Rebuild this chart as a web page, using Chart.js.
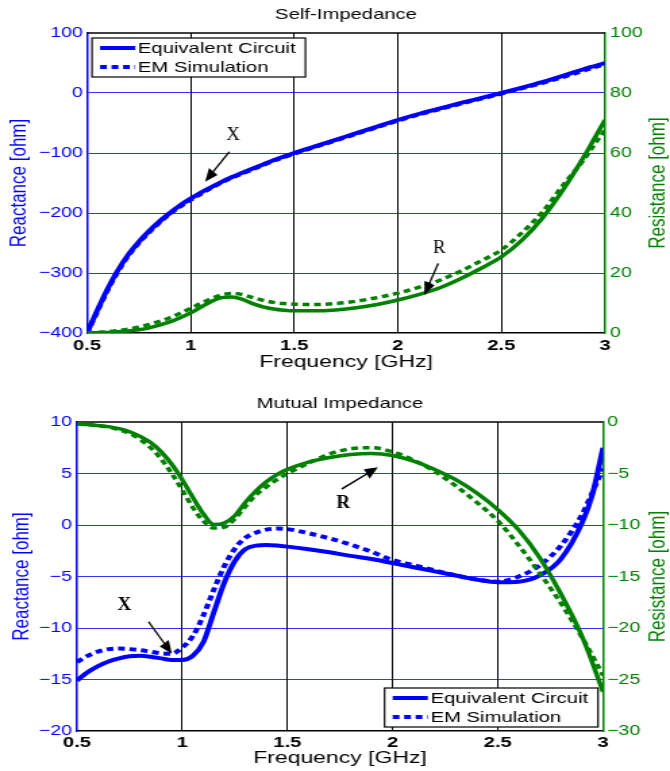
<!DOCTYPE html>
<html>
<head>
<meta charset="utf-8">
<script src="https://cdn.jsdelivr.net/npm/chart.js@4.4.1/dist/chart.umd.min.js"></script>
<style>
  body { margin: 0; background: #fff; }
  #wrap { position: relative; width: 670px; height: 771px; }
  canvas { position: absolute; left: 0; }
</style>
</head>
<body>
<div id="wrap">
  <canvas id="selfChart" width="496" height="385" style="top:0;width:670px;height:385px"></canvas>
  <canvas id="mutualChart" width="496" height="386" style="top:385px;width:670px;height:386px"></canvas>
</div>
<script>
// frequency grid (GHz), shared by all series
const freq = [0.5, 0.55, 0.6, 0.65, 0.7, 0.75, 0.8, 0.85, 0.9, 0.95, 1.0, 1.05, 1.1, 1.15, 1.2, 1.25, 1.3, 1.35, 1.4, 1.45, 1.5,
              1.6, 1.7, 1.8, 1.9, 2.0, 2.1, 2.2, 2.3, 2.4, 2.5, 2.6, 2.7, 2.8, 2.9, 2.95, 3.0];

// Self-Impedance
const selfXCircuit = [-400, -362, -326, -295, -269, -248, -230, -214, -200, -187, -176, -166, -157, -148, -140, -133, -126, -119, -112, -106, -100,
                      -89, -78, -67, -56, -45, -35, -26, -17, -8.5, 0, 9, 18.5, 29, 40, 45, 50];
const selfXSim     = [-400, -364, -328, -297, -271, -250, -232, -216, -201, -189, -178, -168, -158, -149, -141, -134, -127, -120, -113, -107, -101,
                      -90, -79, -68, -57, -46, -36, -27, -18, -9.5, -1, 8, 17, 27, 37.5, 43, 48];
const selfRCircuit = [0, 0.1, 0.2, 0.4, 0.7, 1.1, 1.7, 2.6, 3.7, 5.1, 6.7, 8.6, 10.5, 11.8, 12.0, 11.2, 9.8, 8.7, 8.0, 7.6, 7.4,
                      7.4, 7.7, 8.4, 9.5, 11.0, 12.8, 15.0, 18.0, 21.5, 25.4, 31, 38.5, 48, 59, 65, 71];
const selfRSim     = [0, 0.2, 0.4, 0.8, 1.3, 2.0, 2.9, 3.9, 5.1, 6.6, 8.2, 9.9, 11.5, 12.7, 13.2, 12.8, 11.8, 10.9, 10.2, 9.8, 9.6,
                      9.5, 9.8, 10.6, 11.8, 13.3, 15.2, 17.5, 20.5, 24, 27.7, 33.5, 40.5, 49.5, 58, 63, 67.7];

// Mutual Impedance
const mutualXCircuit = [-15.1, -14.3, -13.7, -13.25, -12.95, -12.75, -12.7, -12.8, -12.95, -13.1, -13.1, -12.7, -11.4, -8.5, -5.6, -3.5, -2.35, -2.0, -1.95, -2.0, -2.1,
                        -2.35, -2.65, -3.0, -3.3, -3.7, -4.1, -4.5, -4.9, -5.3, -5.55, -5.5, -4.9, -3.3, 0.2, 3.0, 7.5];
const mutualXSim     = [-13.3, -12.7, -12.3, -12.05, -12.0, -12.05, -12.15, -12.3, -12.45, -12.5, -11.9, -10.8, -8.8, -6.3, -4.0, -2.3, -1.25, -0.75, -0.45, -0.35, -0.4,
                        -0.8, -1.3, -1.9, -2.6, -3.4, -3.9, -4.4, -4.9, -5.3, -5.5, -5.0, -3.9, -2.0, 1.0, 3.2, 5.5];
const mutualRCircuit = [-0.2, -0.25, -0.35, -0.45, -0.65, -0.95, -1.4, -2.0, -2.9, -4.1, -5.6, -7.3, -8.9, -9.95, -9.8, -9.1, -7.8, -6.7, -5.8, -5.1, -4.6,
                        -3.9, -3.45, -3.15, -3.05, -3.25, -3.8, -4.6, -5.6, -6.9, -8.5, -10.5, -13.2, -16.7, -20.8, -23.4, -26.2];
const mutualRSim     = [-0.2, -0.25, -0.35, -0.5, -0.75, -1.1, -1.7, -2.5, -3.6, -5.0, -6.6, -8.3, -9.6, -10.3, -10.2, -9.4, -8.2, -7.1, -6.3, -5.6, -5.0,
                        -4.0, -3.1, -2.6, -2.5, -2.9, -3.7, -4.8, -6.2, -7.8, -9.6, -12.0, -14.7, -17.6, -20.9, -22.7, -24.6];

const legendLabels = ['Equivalent Circuit', 'EM Simulation'];

// text + arrow annotations, in data units
const selfNotes = [
  { text: 'X', axis: 'y',  at: [1.206, -70],  from: [1.187, -97.8], to: [1.07, -147.8], bold: false },
  { text: 'R', axis: 'y1', at: [2.2, 28.2],   from: [2.195, 23.2],  to: [2.128, 12.7],  bold: false }
];
const mutualNotes = [
  { text: 'X', axis: 'y',  at: [0.725, -7.8], from: [0.84, -9.4],   to: [0.951, -12.5], bold: true },
  { text: 'R', axis: 'y1', at: [1.765, -7.9], from: [1.758, -6.5],  to: [1.93, -4.4],   bold: true }
];

const BLUE = '#0000ff';
const GREEN = '#008000';
const FONT = "'Liberation Sans', Arial, Helvetica, sans-serif";
const SX = 670 / 496;   // canvas is stretched horizontally like the original figure

const pts = arr => freq.map((f, i) => ({ x: f, y: arr[i] }));
const minus = v => (v < 0 ? '\u2212' + Math.abs(v) : String(v));

function drawArrow(ctx, x0, y0, x1, y1) {
  const ang = Math.atan2(y1 - y0, x1 - x0);
  const L = 13, W = 5.5;
  ctx.strokeStyle = '#000';
  ctx.fillStyle = '#000';
  ctx.lineWidth = 1.6;
  ctx.beginPath();
  ctx.moveTo(x0, y0);
  ctx.lineTo(x1 - L * 0.8 * Math.cos(ang), y1 - L * 0.8 * Math.sin(ang));
  ctx.stroke();
  ctx.beginPath();
  ctx.moveTo(x1, y1);
  ctx.lineTo(x1 - L * Math.cos(ang) + W * Math.sin(ang), y1 - L * Math.sin(ang) - W * Math.cos(ang));
  ctx.lineTo(x1 - L * Math.cos(ang) - W * Math.sin(ang), y1 - L * Math.sin(ang) + W * Math.cos(ang));
  ctx.closePath();
  ctx.fill();
}

const extras = {
  id: 'extras',
  beforeDatasetsDraw(chart) {
    const { ctx, chartArea: a } = chart;
    ctx.save();
    ctx.strokeStyle = '#000';
    ctx.lineWidth = 1.5;
    ctx.beginPath();
    ctx.moveTo(a.left, a.top);
    ctx.lineTo(a.right, a.top);
    ctx.stroke();
    ctx.restore();
  },
  afterDraw(chart, args, opts) {
    const { ctx, chartArea: a, scales } = chart;
    ctx.save();

    // title
    ctx.fillStyle = '#000';
    ctx.font = `15px ${FONT}`;
    ctx.textAlign = 'center';
    ctx.textBaseline = 'middle';
    ctx.fillText(opts.title, (a.left + a.right) / 2, opts.titleY);

    // right axis title, reading bottom to top
    ctx.save();
    ctx.translate(chart.width - 8.9, (a.top + a.bottom) / 2);
    ctx.rotate(-Math.PI / 2);
    ctx.fillStyle = GREEN;
    ctx.font = `17px ${FONT}`;
    ctx.fillText('Resistance [ohm]', 0, 0);
    ctx.restore();

    // legend box
    const w = 158, h = 39;
    const lx = opts.legendAt === 'topleft' ? a.left + 3.7 : a.right - 3.7 - w;
    const ly = opts.legendAt === 'topleft' ? a.top + 5 : a.bottom - 4 - h;
    ctx.fillStyle = '#fff';
    ctx.fillRect(lx, ly, w, h);
    ctx.strokeStyle = '#000';
    ctx.lineWidth = 1.2;
    ctx.strokeRect(lx, ly, w, h);
    legendLabels.forEach((label, i) => {
      const y = ly + 10 + i * 19;
      ctx.strokeStyle = BLUE;
      ctx.lineWidth = 4;
      ctx.setLineDash(i === 0 ? [] : [5, 3.5]);
      ctx.beginPath();
      ctx.moveTo(lx + 6, y);
      ctx.lineTo(lx + 32, y);
      ctx.stroke();
      ctx.setLineDash([]);
      ctx.fillStyle = '#000';
      ctx.font = `15px ${FONT}`;
      ctx.textAlign = 'left';
      ctx.textBaseline = 'middle';
      ctx.fillText(label, lx + 34, y + 1);
    });

    // notes, drawn in display space so they are not stretched
    ctx.scale(1 / SX, 1);
    opts.notes.forEach(n => {
      const ys = scales[n.axis];
      const px = v => scales.x.getPixelForValue(v) * SX;
      drawArrow(ctx, px(n.from[0]), ys.getPixelForValue(n.from[1]), px(n.to[0]), ys.getPixelForValue(n.to[1]));
      ctx.fillStyle = '#000';
      ctx.font = `${n.bold ? 'bold ' : ''}19px 'Liberation Serif', 'Times New Roman', serif`;
      ctx.textAlign = 'center';
      ctx.textBaseline = 'middle';
      ctx.fillText(n.text, px(n.at[0]), ys.getPixelForValue(n.at[1]));
    });
    ctx.restore();
  }
};

function makeChart(id, cfg) {
  const edge = (lo, hi, color) => c => (c.tick && (c.tick.value === lo || c.tick.value === hi)) ? 'rgba(0,0,0,0)' : color;
  return new Chart(document.getElementById(id), {
    type: 'line',
    data: {
      datasets: [
        { data: pts(cfg.rCircuit), yAxisID: 'y1', borderColor: GREEN, borderWidth: 3.5 },
        { data: pts(cfg.rSim), yAxisID: 'y1', borderColor: GREEN, borderWidth: 3.5, borderDash: [5, 3.5] },
        { data: pts(cfg.xCircuit), yAxisID: 'y', borderColor: BLUE, borderWidth: 4 },
        { data: pts(cfg.xSim), yAxisID: 'y', borderColor: BLUE, borderWidth: 4, borderDash: [5, 3.5] }
      ].map(d => ({ ...d, pointRadius: 0, cubicInterpolationMode: 'monotone', fill: false }))
    },
    options: {
      responsive: false,
      animation: false,
      events: [],
      layout: { padding: { top: cfg.top, left: 0, right: 0, bottom: 0 } },
      scales: {
        x: {
          type: 'linear', min: 0.5, max: 3, position: 'bottom',
          ticks: { stepSize: 0.5, color: '#000', padding: cfg.xTickPad, maxRotation: 0, autoSkip: false,
                   font: { family: FONT, size: 15, weight: 'bold' }, callback: v => String(v) },
          grid: { color: edge(0.5, 3, '#000'), lineWidth: 1, drawTicks: false },
          border: { color: '#000', width: 1.5 },
          title: { display: true, text: 'Frequency [GHz]', color: '#000', font: { family: FONT, size: 17 },
                   padding: { top: 0, bottom: cfg.xTitlePad } },
          afterFit: s => { s.height = cfg.xHeight; }
        },
        y: {
          position: 'left', min: cfg.xMin, max: cfg.xMax,
          ticks: { stepSize: cfg.xStep, color: BLUE, padding: cfg.leftTickPad, font: { family: FONT, size: 14.5 }, callback: minus },
          grid: { color: edge(cfg.xMin, cfg.xMax, 'rgba(0,0,255,0.8)'), lineWidth: 1, drawTicks: false },
          border: { color: BLUE, width: 1.5 },
          title: { display: true, text: 'Reactance [ohm]', color: BLUE, font: { family: FONT, size: 17 }, padding: { top: cfg.leftTitlePad } },
          afterFit: s => { s.width = cfg.leftWidth; }
        },
        y1: {
          position: 'right', min: cfg.rMin, max: cfg.rMax,
          ticks: { stepSize: cfg.rStep, color: GREEN, padding: cfg.rightTickPad, font: { family: FONT, size: 14.5 }, callback: minus },
          grid: { drawOnChartArea: false, drawTicks: false },
          border: { color: GREEN, width: 1.5 },
          title: { display: false },
          afterFit: s => { s.width = cfg.rightWidth; }
        }
      },
      plugins: {
        legend: { display: false },
        tooltip: { enabled: false },
        extras: { title: cfg.title, titleY: cfg.titleY, legendAt: cfg.legendAt, notes: cfg.notes }
      }
    },
    plugins: [extras]
  });
}

makeChart('selfChart', {
  title: 'Self-Impedance', titleY: 15, legendAt: 'topleft', notes: selfNotes,
  xCircuit: selfXCircuit, xSim: selfXSim, rCircuit: selfRCircuit, rSim: selfRSim,
  xMin: -400, xMax: 100, xStep: 100, rMin: 0, rMax: 100, rStep: 20,
  top: 33, xHeight: 52, leftWidth: 64.4, rightWidth: 48.1,
  xTickPad: 4, xTitlePad: 12.8, leftTickPad: 3, rightTickPad: 3.7, leftTitlePad: 4.6
});

makeChart('mutualChart', {
  title: 'Mutual Impedance', titleY: 19, legendAt: 'bottomright', notes: mutualNotes,
  xCircuit: mutualXCircuit, xSim: mutualXSim, rCircuit: mutualRCircuit, rSim: mutualRSim,
  xMin: -20, xMax: 10, xStep: 5, rMin: -30, rMax: 0, rStep: 5,
  top: 37, xHeight: 40, leftWidth: 57.0, rightWidth: 49.6,
  xTickPad: 3, xTitlePad: 2.8, leftTickPad: 3.7, rightTickPad: 3, leftTitlePad: 6.1
});
</script>
</body>
</html>
